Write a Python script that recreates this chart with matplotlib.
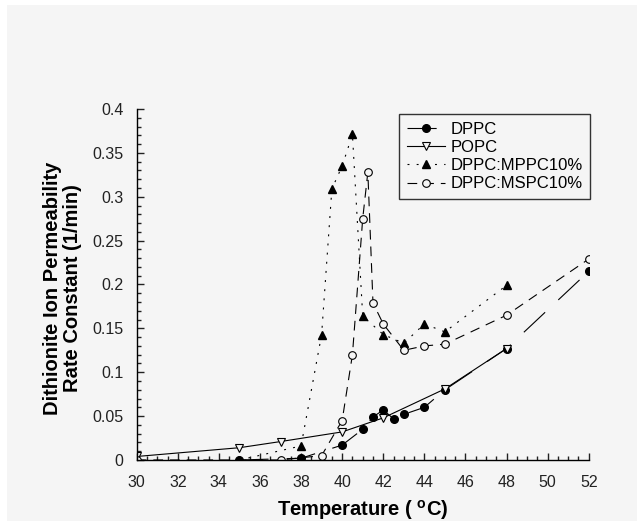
import matplotlib
matplotlib.use("Agg")
import matplotlib.pyplot as plt
from matplotlib.ticker import MultipleLocator, FormatStrFormatter
from matplotlib.patches import Rectangle

plt.rcParams['font.family'] = ['Liberation Sans', 'DejaVu Sans']
plt.rcParams['mathtext.fontset'] = 'custom'
plt.rcParams['mathtext.rm'] = 'Liberation Sans'
plt.rcParams['mathtext.bf'] = 'Liberation Sans:bold'
plt.rcParams['lines.scale_dashes'] = False

# data (temperature in C, rate constant in 1/min)
dppc_t = [35, 38, 40, 41, 41.5, 42, 42.5, 43, 44, 45, 48, 52]
dppc_k = [0.0, 0.002, 0.017, 0.035, 0.049, 0.057, 0.047, 0.052, 0.060, 0.080, 0.127, 0.215]

popc_t = [30, 35, 37, 40, 42, 45, 48]
popc_k = [0.004, 0.014, 0.021, 0.032, 0.048, 0.081, 0.127]

mppc_t = [35, 38, 39, 39.5, 40, 40.5, 41, 42, 43, 44, 45, 48]
mppc_k = [0.0, 0.016, 0.143, 0.309, 0.335, 0.371, 0.164, 0.143, 0.133, 0.155, 0.146, 0.199]

mspc_t = [30, 37, 39, 40, 40.5, 41, 41.25, 41.5, 42, 43, 44, 45, 48, 52]
mspc_k = [0.0, 0.0, 0.005, 0.045, 0.120, 0.275, 0.328, 0.179, 0.155, 0.125, 0.130, 0.132, 0.165, 0.229]

labels = ['DPPC', 'POPC', 'DPPC:MPPC10%', 'DPPC:MSPC10%']

bg = '#f5f5f5'
fig = plt.figure(figsize=(6.37, 5.21), dpi=100, facecolor=bg)
# white margin strip along top and left edge of the scan
fig.patches.append(Rectangle((0, 1 - 5 / 521), 1, 5 / 521, transform=fig.transFigure,
                             facecolor='white', edgecolor='none', zorder=0))
fig.patches.append(Rectangle((0, 0), 7 / 637, 1, transform=fig.transFigure,
                             facecolor='white', edgecolor='none', zorder=0))

ax = fig.add_axes([0.2146, 0.1171, 0.7096, 0.6737])
ax.set_facecolor(bg)

lw = 0.8
ms = 5.5
ax.plot(dppc_t, dppc_k, color='black', lw=lw, dashes=(21, 13),
        marker='o', ms=ms, mfc='black', mec='black', label=labels[0])
ax.plot(popc_t, popc_k, color='black', lw=lw, ls='-',
        marker='v', ms=ms, mfc=bg, mec='black', mew=0.8, label=labels[1])
ax.plot(mppc_t, mppc_k, color='black', lw=lw, dashes=(1.4, 5.2),
        marker='^', ms=ms, mfc='black', mec='black', label=labels[2])
ax.plot(mspc_t, mspc_k, color='black', lw=lw, dashes=(7, 5),
        marker='o', ms=ms, mfc=bg, mec='black', mew=0.8, label=labels[3])

ax.set_xlim(30, 52)
ax.set_ylim(0, 0.4)
ax.xaxis.set_major_locator(MultipleLocator(2))
ax.xaxis.set_minor_locator(MultipleLocator(0.5))
ax.yaxis.set_major_locator(MultipleLocator(0.05))
ax.yaxis.set_minor_locator(MultipleLocator(0.01))
ax.yaxis.set_major_formatter(FormatStrFormatter('%g'))

for side in ['top', 'right']:
    ax.spines[side].set_visible(False)
for side in ['left', 'bottom']:
    ax.spines[side].set_linewidth(1.0)

ax.tick_params(which='both', direction='in', width=1.0, labelsize=11.5, colors='#222222')
ax.tick_params(which='major', length=5)
ax.tick_params(which='minor', length=3)
ax.tick_params(axis='x', which='major', pad=11)
ax.tick_params(axis='y', which='major', pad=9.5)

ax.set_xlabel(r'Temperature ( $\mathbf{^{o}}$C)', fontsize=14.5, fontweight='bold')
ax.set_ylabel('Dithionite Ion Permeability\nRate Constant (1/min)',
              fontsize=14.5, fontweight='bold', linespacing=1.1)
ax.xaxis.set_label_coords(0.5, -0.108)
ax.yaxis.set_label_coords(-0.12, 0.49)

leg = ax.legend(loc='upper left', bbox_to_anchor=(399 / 637, 1 - 114 / 521),
                bbox_transform=fig.transFigure, fontsize=12, frameon=True,
                fancybox=False, framealpha=1, facecolor=bg, edgecolor='#333333',
                handlelength=2.3, handletextpad=0.35, borderpad=0.45,
                labelspacing=0.2, borderaxespad=0)
leg.get_frame().set_linewidth(1.0)

fig.savefig('out.png', dpi=100, facecolor=bg)
